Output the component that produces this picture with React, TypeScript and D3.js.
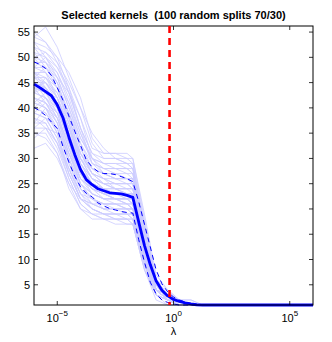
import React from 'react';
import * as d3 from 'd3';

const TITLE = 'Selected kernels  (100 random splits 70/30)';
const X_LABEL = 'λ';
const X_TICK_EXPONENTS = [-5, 0, 5];
const Y_TICKS = [5, 10, 15, 20, 25, 30, 35, 40, 45, 50, 55];
const SELECTED_LAMBDA_EXP = -0.17;

// log10(lambda) grid for the summary curves
const GRID_EXP = [
  -6, -5.75, -5.5, -5.25, -5, -4.75, -4.5, -4.25, -4, -3.75, -3.5, -3.25, -3, -2.75, -2.5, -2.25,
  -2, -1.75, -1.5, -1.25, -1, -0.75, -0.5, -0.25, 0, 0.25, 0.5, 0.75, 1, 1.25, 1.5, 6,
];
const MEDIAN = [
  44.7, 44.0, 43.2, 42.4, 40.6, 38.0, 34.2, 30.8, 27.8, 25.8, 24.8, 24.0, 23.6, 23.2, 23.1, 23.0,
  22.7, 22.3, 17.5, 12.8, 9.0, 5.8, 3.9, 2.8, 2.1, 1.7, 1.4, 1.2, 1.05, 1.0, 1.0, 1.0,
];
const Q_UPPER = [
  49.1, 48.6, 47.8, 46.4, 44.0, 41.5, 38.4, 35.4, 32.6, 29.7, 28.3, 27.4, 27.0, 27.0, 26.8, 26.4,
  26.0, 25.4, 21.5, 17.0, 12.5, 8.0, 5.2, 3.6, 2.6, 2.0, 1.6, 1.3, 1.1, 1.0, 1.0, 1.0,
];
const Q_LOWER = [
  40.1, 39.4, 38.5, 37.2, 35.9, 32.3, 29.3, 26.5, 24.4, 23.1, 22.4, 21.2, 20.6, 20.1, 19.8, 19.5,
  19.3, 19.2, 14.0, 9.5, 5.5, 3.2, 2.0, 1.5, 1.2, 1.0, 1.0, 1.0, 1.0, 1.0, 1.0, 1.0,
];

// log10(lambda) grid for the individual split curves
const SPLIT_EXP = [-6, -5.5, -5, -4.5, -4, -3.5, -3, -2.5, -2, -1.75, -1.25, -0.75, -0.25, 0.25, 0.75, 1.25, 6];
const SPLITS = [
  [55, 53, 50, 44, 38, 32, 31, 31, 30, 30, 18, 6, 3, 2, 1, 1, 1],
  [54, 56, 52, 46, 40, 33, 30, 30, 30, 29, 17, 5, 3, 1, 1, 1, 1],
  [52, 51, 48, 43, 36, 31, 29, 29, 28, 28, 16, 6, 4, 2, 1, 1, 1],
  [51, 50, 47, 41, 34, 30, 29, 28, 28, 27, 15, 5, 3, 2, 1, 1, 1],
  [50, 49, 47, 42, 35, 29, 28, 27, 27, 27, 16, 4, 2, 1, 1, 1, 1],
  [49, 49, 46, 40, 33, 28, 27, 27, 26, 26, 15, 5, 3, 2, 1, 1, 1],
  [49, 48, 45, 39, 32, 28, 27, 26, 26, 25, 14, 4, 2, 1, 1, 1, 1],
  [48, 47, 44, 38, 31, 27, 26, 26, 25, 25, 14, 5, 3, 2, 1, 1, 1],
  [47, 47, 44, 37, 30, 27, 25, 25, 25, 24, 14, 4, 2, 1, 1, 1, 1],
  [47, 46, 43, 37, 30, 26, 25, 25, 24, 24, 13, 5, 3, 2, 2, 1, 1],
  [46, 46, 42, 36, 29, 26, 25, 24, 24, 24, 13, 4, 2, 1, 1, 1, 1],
  [46, 45, 42, 35, 29, 26, 24, 24, 24, 23, 13, 5, 3, 2, 1, 1, 1],
  [45, 45, 41, 35, 28, 25, 24, 24, 23, 23, 13, 4, 3, 2, 1, 1, 1],
  [45, 44, 41, 34, 28, 25, 24, 23, 23, 23, 12, 5, 2, 1, 1, 1, 1],
  [45, 44, 40, 34, 28, 25, 24, 23, 23, 22, 13, 4, 3, 2, 1, 1, 1],
  [44, 44, 40, 33, 27, 25, 23, 23, 23, 22, 12, 5, 3, 1, 1, 1, 1],
  [44, 43, 40, 33, 27, 24, 23, 23, 22, 22, 12, 4, 2, 2, 1, 1, 1],
  [44, 43, 39, 32, 27, 24, 23, 22, 22, 22, 12, 5, 3, 2, 1, 1, 1],
  [43, 42, 39, 32, 26, 24, 23, 22, 22, 21, 11, 4, 2, 1, 1, 1, 1],
  [43, 42, 38, 31, 26, 24, 22, 22, 21, 21, 12, 5, 3, 2, 1, 1, 1],
  [42, 41, 38, 31, 25, 23, 22, 22, 21, 21, 11, 4, 2, 1, 1, 1, 1],
  [42, 41, 37, 30, 25, 23, 22, 21, 21, 20, 11, 5, 3, 2, 1, 1, 1],
  [41, 40, 37, 30, 24, 22, 21, 21, 20, 20, 10, 4, 2, 1, 1, 1, 1],
  [41, 40, 36, 29, 24, 22, 21, 20, 20, 20, 11, 4, 3, 2, 1, 1, 1],
  [40, 39, 36, 29, 23, 22, 20, 20, 20, 19, 10, 3, 2, 1, 1, 1, 1],
  [40, 39, 35, 28, 23, 21, 20, 20, 19, 19, 10, 4, 2, 1, 1, 1, 1],
  [39, 38, 34, 28, 22, 21, 20, 19, 19, 19, 9, 3, 2, 1, 1, 1, 1],
  [39, 38, 34, 27, 22, 20, 19, 19, 19, 18, 9, 4, 2, 2, 1, 1, 1],
  [38, 37, 33, 27, 22, 20, 19, 19, 18, 18, 9, 3, 2, 1, 1, 1, 1],
  [37, 37, 33, 26, 21, 19, 19, 18, 18, 18, 9, 3, 2, 1, 1, 1, 1],
  [36, 36, 32, 26, 21, 19, 18, 18, 18, 17, 8, 3, 1, 1, 1, 1, 1],
  [35, 35, 31, 25, 20, 19, 18, 18, 17, 17, 8, 3, 2, 1, 1, 1, 1],
  [35, 34, 31, 24, 20, 18, 18, 17, 17, 17, 8, 2, 1, 1, 1, 1, 1],
  [32, 33, 30, 25, 22, 20, 19, 18, 18, 17, 9, 3, 2, 1, 1, 1, 1],
  [50, 51, 49, 45, 40, 35, 32, 30, 29, 28, 16, 6, 3, 2, 1, 1, 1],
  [53, 52, 50, 47, 42, 34, 31, 31, 31, 30, 19, 7, 4, 2, 1, 1, 1],
  [48, 48, 46, 43, 38, 30, 27, 26, 26, 26, 16, 6, 3, 2, 1, 1, 1],
  [42, 40, 35, 27, 22, 21, 21, 21, 21, 20, 11, 4, 2, 1, 1, 1, 1],
  [46, 44, 40, 34, 30, 28, 26, 25, 25, 24, 14, 6, 3, 2, 1, 1, 1],
  [44, 45, 43, 38, 30, 26, 24, 23, 22, 22, 12, 5, 3, 2, 2, 1, 1],
  [37, 40, 38, 33, 26, 23, 22, 22, 22, 21, 12, 5, 2, 1, 1, 1, 1],
  [47, 44, 41, 36, 31, 27, 26, 24, 23, 23, 13, 4, 2, 1, 1, 1, 1],
  [51, 48, 44, 39, 33, 29, 28, 28, 27, 26, 15, 5, 3, 2, 1, 1, 1],
  [43, 46, 44, 39, 32, 27, 25, 24, 24, 24, 14, 5, 3, 1, 1, 1, 1],
  [39, 41, 39, 35, 28, 24, 23, 22, 21, 20, 10, 3, 2, 1, 1, 1, 1],
  [45, 42, 38, 32, 25, 22, 21, 21, 20, 20, 10, 4, 2, 1, 1, 1, 1],
  [53, 50, 46, 40, 34, 30, 29, 29, 29, 28, 17, 6, 3, 2, 1, 1, 1],
  [48, 50, 48, 44, 36, 29, 27, 27, 26, 25, 14, 4, 2, 1, 1, 1, 1],
  [36, 38, 36, 30, 24, 21, 20, 20, 20, 19, 10, 4, 2, 1, 1, 1, 1],
  [41, 43, 42, 37, 29, 25, 24, 23, 23, 22, 12, 4, 2, 1, 1, 1, 1],
  [52, 49, 45, 38, 31, 27, 26, 25, 25, 25, 14, 5, 2, 1, 1, 1, 1],
  [34, 36, 35, 31, 25, 22, 21, 21, 20, 20, 11, 4, 3, 2, 1, 1, 1],
  [50, 47, 42, 36, 29, 25, 24, 23, 23, 23, 13, 5, 3, 2, 1, 1, 1],
  [46, 48, 45, 41, 35, 30, 28, 28, 28, 27, 16, 6, 3, 2, 1, 1, 1],
  [43, 44, 41, 36, 30, 26, 25, 24, 23, 23, 12, 4, 2, 1, 1, 1, 1],
  [38, 36, 33, 28, 23, 20, 19, 19, 19, 18, 9, 3, 2, 1, 1, 1, 1],
  [54, 53, 49, 43, 36, 31, 30, 30, 29, 29, 17, 5, 3, 2, 1, 1, 1],
  [40, 42, 40, 35, 27, 23, 22, 22, 22, 21, 11, 5, 2, 1, 1, 1, 1],
  [47, 45, 42, 36, 31, 28, 27, 26, 26, 26, 15, 5, 3, 1, 1, 1, 1],
  [44, 41, 37, 31, 26, 24, 23, 22, 22, 21, 11, 4, 2, 1, 1, 1, 1],
];

const FONT = "'Liberation Sans', Arial, Helvetica, sans-serif";

export default function App() {
  const left = 34, right = 313, top = 26, bottom = 305;
  const x = d3.scaleLog().domain([1e-6, 1e6]).range([left, right]);
  const y = d3.scaleLinear().domain([1, 56.2]).range([bottom, top]);
  const line = d3
    .line<[number, number]>()
    .x((d) => x(Math.pow(10, d[0])))
    .y((d) => y(d[1]));

  const path = (exps: number[], vals: number[]) =>
    line(exps.map((e, i) => [e, vals[i]] as [number, number])) || '';

  const xr = x(Math.pow(10, SELECTED_LAMBDA_EXP));
  const tickLen = 4;

  return (
    <svg
      width={332}
      height={342}
      style={{ position: 'absolute', left: 0, top: 0, background: '#fff' }}
      fontFamily={FONT}
    >
      <rect x={0} y={0} width={332} height={342} fill="#fff" />
      <text x={(left + right) / 2} y={19} textAnchor="middle" fontSize={11} fontWeight="bold" style={{ whiteSpace: 'pre' }}>
        {TITLE}
      </text>

      <g fill="none" strokeLinejoin="round">
        {SPLITS.map((s, i) => (
          <path key={i} d={path(SPLIT_EXP, s)} stroke="#ccccff" strokeWidth={0.8} />
        ))}
        <path d={path(GRID_EXP, Q_UPPER)} stroke="#0000ff" strokeWidth={1} strokeDasharray="5,4" />
        <path d={path(GRID_EXP, Q_LOWER)} stroke="#0000ff" strokeWidth={1} strokeDasharray="5,4" />
        <path d={path(GRID_EXP, MEDIAN)} stroke="#0000ff" strokeWidth={2.8} />
      </g>

      {/* axes box */}
      <rect x={left} y={top} width={right - left} height={bottom - top} fill="none" stroke="#000" strokeWidth={1} />

      {Y_TICKS.map((t) => (
        <g key={t}>
          <line x1={left} x2={left + tickLen} y1={y(t)} y2={y(t)} stroke="#000" strokeWidth={0.8} />
          <line x1={right} x2={right - tickLen} y1={y(t)} y2={y(t)} stroke="#000" strokeWidth={0.8} />
          <text x={30} y={y(t) + 4} textAnchor="end" fontSize={11}>
            {t}
          </text>
        </g>
      ))}

      {X_TICK_EXPONENTS.map((e) => {
        const px = x(Math.pow(10, e));
        return (
          <g key={e}>
            <line x1={px} x2={px} y1={bottom} y2={bottom - tickLen} stroke="#000" strokeWidth={0.8} />
            <line x1={px} x2={px} y1={top} y2={top + tickLen} stroke="#000" strokeWidth={0.8} />
            <text x={px} y={322} textAnchor="middle" fontSize={11}>
              <tspan>10</tspan>
              <tspan dy={-6} fontSize={8}>
                {e < 0 ? '\u2212' + Math.abs(e) : String(e)}
              </tspan>
            </text>
          </g>
        );
      })}

      <line x1={xr} x2={xr} y1={top} y2={bottom} stroke="#ff0000" strokeWidth={2.6} strokeDasharray="7,5" />

      <text x={(left + right) / 2} y={335} textAnchor="middle" fontSize={11}>
        {X_LABEL}
      </text>
    </svg>
  );
}
